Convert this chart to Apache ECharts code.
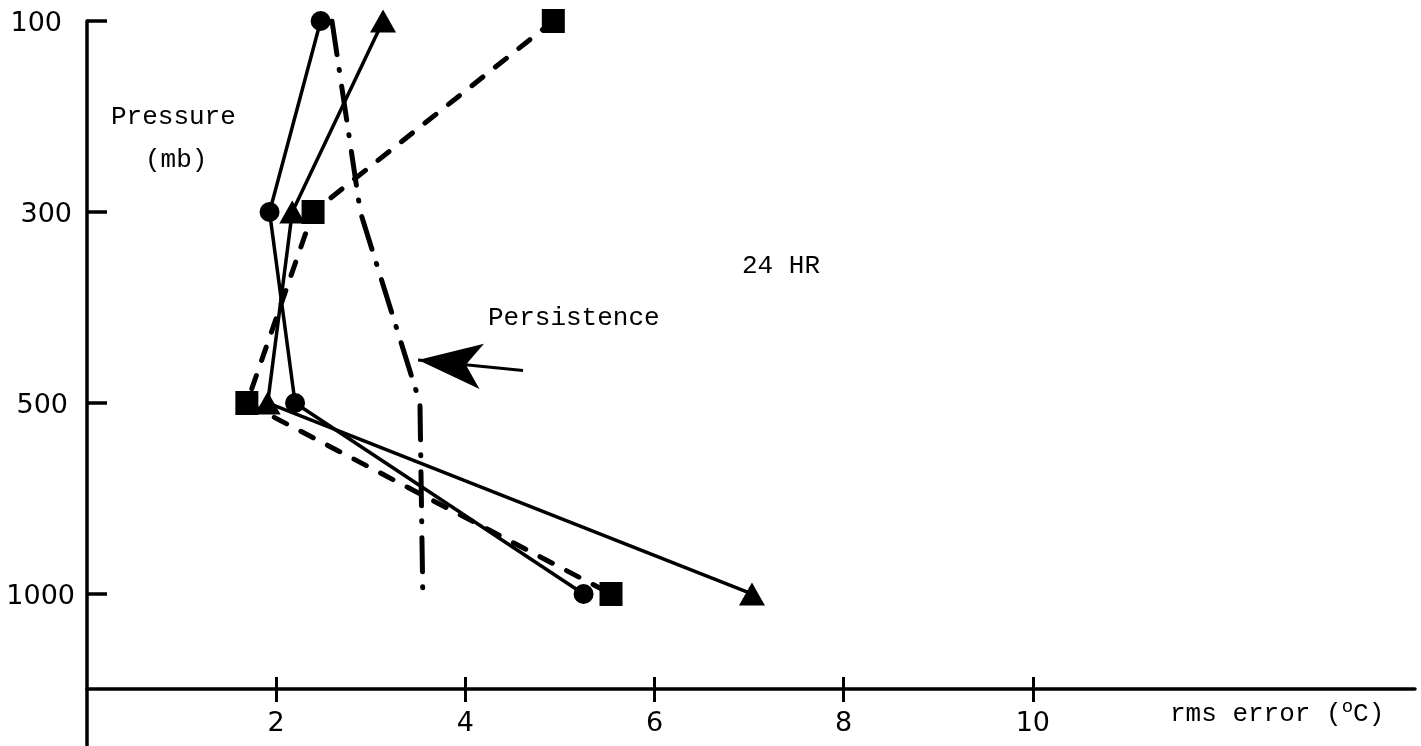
<!DOCTYPE html>
<html>
<head>
<meta charset="utf-8">
<script src="https://cdn.jsdelivr.net/npm/echarts@6/dist/echarts.min.js"></script>
<style>
html,body{margin:0;padding:0;background:#fff;}
#chart{width:1421px;height:746px;}
</style>
</head>
<body>
<div id="chart"></div>
<script>
// ---- data ----
const pressureLevels = ['100', '300', '500', '1000'];      // mb, evenly spaced on the axis
const circleErr      = [2.47, 1.93, 2.20, 5.25];           // rms error (°C), solid line, circles
const triangleErr    = [3.13, 2.17, 1.91, 7.03];           // solid line, triangles
const squareErr      = [4.93, 2.39, 1.69, 5.54];           // dashed line, squares
const persistenceErr = [2.59, 2.89, 3.52, 3.55];           // dash-dot line, no markers
const xTickValues    = [2, 4, 6, 8, 10];
const yTickValues    = [0, 1, 2, 3];                        // positions of pressureLevels
const arrowTail      = [4.61, 1.83];                        // annotation arrow (data units)
const arrowTip       = [3.50, 1.775];

const toPoints = vals => vals.map((v, i) => [v, i]);

const numFont = 'DejaVu Sans';
const monoFont = 'Liberation Mono';
const yLabelPad = [13, 3, 7, 0];   // small per-label offsets as in the reference

const chart = echarts.init(document.getElementById('chart'), null, {renderer: 'canvas'});

const xCommon = {
  type: 'value', min: 0, max: 14.04, position: 'bottom', offset: -57,
  splitLine: {show: false}
};

const yRich = {};
yLabelPad.forEach((p, i) => {
  yRich['l' + i] = {fontFamily: numFont, fontSize: 27, color: '#000', padding: [6, p, 0, 0]};
});

const option = {
  backgroundColor: '#ffffff',
  animation: false,
  grid: {left: 87, right: 6, top: 21, bottom: 0, containLabel: false},
  xAxis: [
    Object.assign({}, xCommon, {
      axisLine: {onZero: false, lineStyle: {color: '#000', width: 3.5}},
      axisTick: {customValues: xTickValues, inside: true, length: 12, lineStyle: {color: '#000', width: 3}},
      axisLabel: {customValues: xTickValues, margin: 21, fontFamily: numFont, fontSize: 27, color: '#000'}
    }),
    Object.assign({}, xCommon, {
      axisLine: {show: false, onZero: false},
      axisTick: {customValues: xTickValues, inside: false, length: 13, lineStyle: {color: '#000', width: 3}},
      axisLabel: {show: false}
    })
  ],
  yAxis: {
    type: 'value', inverse: true, min: 0, max: 3.796,
    splitLine: {show: false},
    axisLine: {onZero: false, lineStyle: {color: '#000', width: 3.5}},
    axisTick: {customValues: yTickValues, inside: true, length: 20, lineStyle: {color: '#000', width: 3.5}},
    axisLabel: {
      customValues: yTickValues, margin: 12, fontFamily: numFont, fontSize: 27, color: '#000',
      formatter: v => { const i = Math.round(v); return '{l' + i + '|' + pressureLevels[i] + '}'; },
      rich: yRich
    }
  },
  series: [
    {
      name: 'persistence', type: 'line', data: toPoints(persistenceErr),
      symbol: 'none', z: 2,
      lineStyle: {color: '#000', width: 5, type: [34, 15, 1, 16], cap: 'round'},
      markLine: {
        silent: true, symbol: ['none', 'arrow'], symbolSize: 20,
        label: {show: false},
        lineStyle: {color: '#000', width: 3, type: 'solid'},
        itemStyle: {color: '#000'},
        data: [[
          {coord: arrowTail, symbol: 'none'},
          {coord: arrowTip, symbol: 'arrow', symbolSize: [34, 64]}
        ]]
      }
    },
    {
      name: 'square', type: 'line', data: toPoints(squareErr),
      symbol: 'rect', symbolSize: [23, 24], showAllSymbol: true, z: 3,
      itemStyle: {color: '#000'},
      lineStyle: {color: '#000', width: 5, type: [14, 16], cap: 'round'}
    },
    {
      name: 'circle', type: 'line', data: toPoints(circleErr),
      symbol: 'circle', symbolSize: 20, z: 4,
      itemStyle: {color: '#000'},
      lineStyle: {color: '#000', width: 3.5}
    },
    {
      name: 'triangle', type: 'line', data: toPoints(triangleErr),
      symbol: 'triangle', symbolSize: [26, 23], z: 4,
      itemStyle: {color: '#000'},
      lineStyle: {color: '#000', width: 3.5}
    }
  ],
  graphic: [
    {type: 'text', left: 111, top: 104, style: {text: 'Pressure', font: '26px "Liberation Mono"', fill: '#000'}},
    {type: 'text', left: 145, top: 147, style: {text: '(mb)', font: '26px "Liberation Mono"', fill: '#000'}},
    {type: 'text', left: 742, top: 253, style: {text: '24 HR', font: '26px "Liberation Mono"', fill: '#000'}},
    {type: 'text', left: 488, top: 305, style: {text: 'Persistence', font: '26px "Liberation Mono"', fill: '#000'}},
    {type: 'text', left: 1170, top: 697, style: {
      text: '{t|rms error (}{s|o}{t|C)}',
      rich: {
        t: {fontFamily: monoFont, fontSize: 26, color: '#000', verticalAlign: 'bottom'},
        s: {fontFamily: monoFont, fontSize: 19, color: '#000', verticalAlign: 'bottom', padding: [0, 0, 11, 0]}
      }
    }}
  ]
};

chart.setOption(option);
</script>
</body>
</html>
